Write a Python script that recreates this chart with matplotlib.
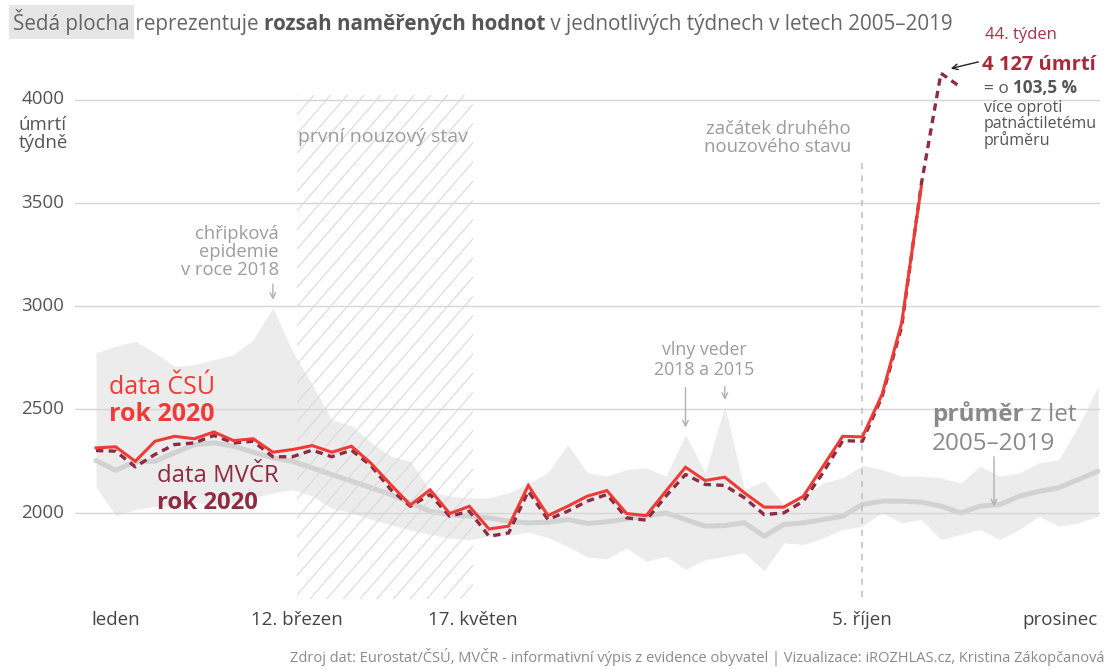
import matplotlib as mpl
mpl.use('Agg')
import matplotlib.pyplot as plt
from matplotlib.patches import Rectangle
import numpy as np

plt.rcParams['font.family'] = ['Open Sans', 'DejaVu Sans']

# týdenní počty úmrtí
weeks = np.arange(1, 53)

csu_2020 = [2313, 2318, 2248, 2345, 2369, 2357, 2390, 2348, 2357, 2292,
            2305, 2324, 2292, 2321, 2238, 2135, 2036, 2110, 1995, 2030,
            1920, 1934, 2131, 1985, 2030, 2079, 2106, 1995, 1985, 2103,
            2219, 2155, 2171, 2095, 2026, 2026, 2079, 2224, 2369, 2366,
            2571, 2918, 3579]

mvcr_2020 = [2300, 2297, 2221, 2281, 2329, 2337, 2373, 2337, 2345, 2270,
             2270, 2302, 2270, 2302, 2226, 2111, 2030, 2087, 1982, 2006,
             1885, 1901, 2103, 1966, 2006, 2055, 2087, 1974, 1963, 2079,
             2184, 2136, 2131, 2071, 1990, 1998, 2055, 2193, 2348, 2345,
             2560, 2900, 3590, 4127, 4060]

avg_0519 = [2252, 2204, 2246, 2248, 2289, 2329, 2337, 2321, 2292, 2265,
            2248, 2216, 2184, 2152, 2120, 2087, 2047, 2006, 1990, 1982,
            1974, 1958, 1950, 1953, 1966, 1947, 1955, 1969, 1982, 1998,
            1966, 1934, 1937, 1950, 1885, 1942, 1950, 1966, 1982, 2039,
            2055, 2055, 2050, 2031, 1998, 2031, 2039, 2079, 2103, 2120,
            2160, 2200]

max_0519 = [2773, 2805, 2829, 2773, 2708, 2716, 2740, 2765, 2837, 2991,
            2780, 2620, 2450, 2420, 2339, 2273, 2248, 2105, 2079, 2071,
            2071, 2095, 2140, 2193, 2329, 2193, 2176, 2208, 2216, 2176,
            2378, 2192, 2515, 2111, 2152, 2040, 2079, 2143, 2168, 2228,
            2208, 2176, 2176, 2168, 2143, 2224, 2176, 2192, 2241, 2256,
            2418, 2611]

min_0519 = [2125, 1985, 2014, 2030, 2030, 2047, 2040, 2047, 2071, 2095,
            2111, 2080, 2020, 1998, 1966, 1942, 1915, 1894, 1875, 1869,
            1885, 1890, 1905, 1880, 1835, 1785, 1775, 1829, 1764, 1788,
            1724, 1772, 1788, 1805, 1716, 1853, 1845, 1877, 1918, 1934,
            1998, 1950, 1966, 1869, 1894, 1918, 1869, 1918, 1982, 1934,
            1950, 1982]

yticks = [2000, 2500, 3000, 3500, 4000]
month_labels = ['leden', '12. březen', '17. květen', '5. říjen', 'prosinec']
month_pos = [2, 11.23, 20.19, 40, 50.05]

lockdown1 = (11.23, 20.19)
lockdown2 = 40

W, H = 1111, 669
fig = plt.figure(figsize=(W / 100, H / 100), dpi=100)


def P(x, y):
    return x / W, 1 - y / H


ax = fig.add_axes([75 / W, (H - 598) / H, 1025 / W, (598 - 60) / H])
ax.set_xlim(1 + (75 - 96) / 19.65, 1 + (1100 - 96) / 19.65)
ax.set_ylim(2000 - (598 - 512.5) / 0.2065, 2000 + (512.5 - 60) / 0.2065)
ax.axis('off')

band = '#ececec'
ax.fill_between(weeks, min_0519, max_0519, color=band, lw=0, zorder=1)
ax.plot(weeks, avg_0519, color='#d2d2d2', lw=3.6, zorder=2, solid_capstyle='round')

for t in yticks:
    ax.axhline(t, color='#d6d6d6', lw=1, zorder=3)

# první nouzový stav - šrafování (ručně, hustota jako v originále)
clip = Rectangle((lockdown1[0], 1580), lockdown1[1] - lockdown1[0], 4020 - 1580,
                 transform=ax.transData, facecolor='none', edgecolor='none')
ax.add_patch(clip)
inv = ax.transData.inverted()
x0d, y0d = ax.transData.transform((lockdown1[0], 1580))
x1d, y1d = ax.transData.transform((lockdown1[1], 4020))
slope = 1.15
for c in np.arange(x0d - (y1d - y0d) / slope, x1d + 17, 16.7):
    p0 = inv.transform((c, y0d))
    p1 = inv.transform((c + (y1d - y0d) / slope, y1d))
    ln, = ax.plot([p0[0], p1[0]], [p0[1], p1[1]], color='#dadada', lw=0.8, zorder=3)
    ln.set_clip_path(clip)

ax.plot([lockdown2, lockdown2], [1590, 3700], color='#bdbdbd', lw=1.1,
        ls=(0, (4, 4)), zorder=3)

ax.plot(np.arange(1, len(mvcr_2020) + 1), mvcr_2020, color='#8e2b42', lw=2.4,
        ls=(0, (2.2, 1.6)), zorder=5)
ax.plot(np.arange(1, len(csu_2020) + 1), csu_2020, color='#ef3b36', lw=2.2,
        zorder=6, solid_joinstyle='miter')

# osa y
for t in yticks:
    fig.text(*P(43, 512.5 - (t - 2000) * 0.2065), str(t), ha='center', va='center',
             fontsize=13.5, color='#555555')
fig.text(*P(43, 134), 'úmrtí\ntýdně', ha='center', va='center', fontsize=13.5,
         color='#555555', linespacing=1.05)

# osa x
for lab, w in zip(month_labels, month_pos):
    fig.text(*P(96 + (w - 1) * 19.65, 620), lab, ha='center', va='center',
             fontsize=13.5, color='#444444')

renderer = fig.canvas.get_renderer()


def rich(x, y, parts, size, va='baseline'):
    # parts: (text, weight, color)
    for s, wt, c in parts:
        t = fig.text(*P(x, y), s, fontsize=size, fontweight=wt, color=c, va=va)
        bb = t.get_window_extent(renderer)
        x = bb.x1
    return x


# titulek
t0 = fig.text(*P(13, 30), 'Šedá plocha', fontsize=14.9, color='#666666',
              bbox=dict(facecolor='#e6e6e6', edgecolor='none', pad=3))
x = t0.get_window_extent(renderer).x1
rich(x, 30, [(' reprezentuje ', 'normal', '#666666'),
             ('rozsah naměřených hodnot', 'bold', '#555555'),
             (' v jednotlivých týdnech v letech 2005–2019', 'normal', '#666666')], 14.9)

# popisky
grey = '#9c9c9c'
fig.text(*P(383, 137), 'první nouzový stav', ha='center', va='center',
         fontsize=14, color=grey)
fig.text(*P(851, 138), 'začátek druhého\nnouzového stavu', ha='right', va='center',
         fontsize=13.3, color=grey, linespacing=1.0)
fig.text(*P(279, 252), 'chřipková\nepidemie\nv roce 2018', ha='right', va='center',
         fontsize=13.2, color=grey, linespacing=1.0)
fig.text(*P(704, 360), 'vlny veder\n2018 a 2015', ha='center', va='center',
         fontsize=12.8, color=grey, linespacing=1.15)

arr = dict(arrowstyle='->', color='#b0b0b0', lw=1, shrinkA=0, shrinkB=0)
ax.annotate('', xy=(10, 3030), xytext=(10, 3105), arrowprops=arr)
ax.annotate('', xy=(31, 2412), xytext=(31, 2605), arrowprops=arr)
ax.annotate('', xy=(33, 2545), xytext=(33, 2610), arrowprops=arr)
ax.annotate('', xy=(46.7, 2030), xytext=(46.7, 2270), arrowprops=arr)

# průměr
rich(932, 421, [('průměr', 'bold', '#8a8a8a'), (' z let', 'normal', '#8a8a8a')], 17.5)
fig.text(*P(932, 450), '2005–2019', fontsize=17.5, color='#8a8a8a', va='baseline')

# data 2020
fig.text(*P(109, 394), 'data ČSÚ', fontsize=18, color='#ef3b36', va='baseline')
fig.text(*P(109, 421), 'rok 2020', fontsize=18, color='#ef3b36', va='baseline',
         fontweight='bold')
fig.text(*P(157, 482), 'data MVČR', fontsize=17.2, color='#8e2b42', va='baseline')
fig.text(*P(157, 509), 'rok 2020', fontsize=17.2, color='#8e2b42', va='baseline',
         fontweight='bold')

# vrchol 44. týden
fig.text(*P(985, 39), '44. týden', fontsize=12, color='#a83246', va='baseline')
fig.text(*P(982, 70), '4 127 úmrtí', fontsize=14.5, color='#a52a3a', va='baseline',
         fontweight='bold')
rich(984, 93, [('= o ', 'normal', '#555555'), ('103,5 %', 'bold', '#555555')], 12.3)
fig.text(*P(984, 145), 'více oproti\npatnáctiletému\nprůměru', fontsize=11.5,
         color='#555555', va='baseline', linespacing=0.95)
ax.annotate('', xy=(44.5, 4150), xytext=(45.9, 4182),
            arrowprops=dict(arrowstyle='->', color='#222222', lw=1,
                            shrinkA=0, shrinkB=0))

fig.text(*P(1105, 657), 'Zdroj dat: Eurostat/ČSÚ, MVČR - informativní výpis z evidence '
         'obyvatel | Vizualizace: iROZHLAS.cz, Kristina Zákopčanová',
         ha='right', va='center', fontsize=10.5, color='#8a8a8a')

fig.savefig('out.png', dpi=100, facecolor='white')
